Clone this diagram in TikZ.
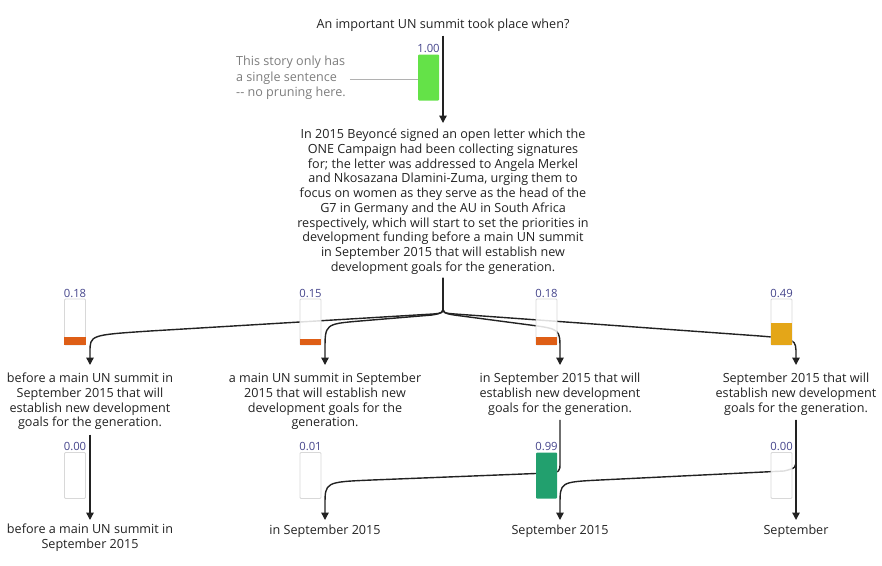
\documentclass[tikz,border=0pt]{standalone}
\usepackage{fontspec}
\setmainfont{Open Sans}
\usetikzlibrary{arrows.meta}
\definecolor{ink}{RGB}{34,34,34}
\definecolor{notec}{RGB}{125,125,125}
\definecolor{lbl}{RGB}{70,70,140}
\definecolor{barline}{RGB}{216,216,216}
\definecolor{gfill}{RGB}{100,226,72}
\definecolor{ofill}{RGB}{222,94,22}
\definecolor{yfill}{RGB}{228,166,24}
\definecolor{tfill}{RGB}{34,160,110}
\newcommand\myfill[3]{\fill[#2] (#1.south west) rectangle ([yshift=#3*46pt]#1.south east);}
\begin{document}
\begin{tikzpicture}[x=1pt,y=-1pt,
  txt/.style={font=\fontsize{12.6}{14.7}\selectfont, text=ink, align=center, inner sep=0pt, execute at begin node=\strut},
  notetxt/.style={font=\fontsize{12.6}{15.5}\selectfont, text=notec, align=left, inner sep=0pt, execute at begin node=\strut},
  lab/.style={font=\fontsize{11.3}{13}\selectfont, text=lbl, inner sep=0pt, anchor=south},
  sbar/.style={draw=barline, line width=0.8pt, fill=white, fill opacity=0.85, minimum width=21pt, minimum height=46pt, inner sep=0pt, rounded corners=1pt},
  conn/.style={draw=ink, line width=1.4pt, -{Triangle[length=7.5pt,width=7.5pt]}},
]
\useasboundingbox (0,0) rectangle (882,565);

% texts
\node[txt] (title) at (443,26) {An important UN summit took place when?};
\node[notetxt, anchor=west] (note) at (236,79) {This story only has\\a single sentence\\{-}{-} no pruning here.};
\node[txt, anchor=north] (para) at (443,129) {In 2015 Beyoncé signed an open letter which the\\ONE Campaign had been collecting signatures\\for; the letter was addressed to Angela Merkel\\and Nkosazana Dlamini-Zuma, urging them to\\focus on women as they serve as the head of the\\G7 in Germany and the AU in South Africa\\respectively, which will start to set the priorities in\\development funding before a main UN summit\\in September 2015 that will establish new\\development goals for the generation.};

\node[txt, anchor=north] (c1) at (90,373) {before a main UN summit in\\September 2015 that will\\establish new development\\goals for the generation.};
\node[txt, anchor=north] (c2) at (325,373) {a main UN summit in September\\2015 that will establish new\\development goals for the\\generation.};
\node[txt, anchor=north] (c3) at (560,373) {in September 2015 that will\\establish new development\\goals for the generation.};
\node[txt, anchor=north] (c4) at (796,373) {September 2015 that will\\establish new development\\goals for the generation.};

\node[txt, anchor=north] (d1) at (90,524) {before a main UN summit in\\September 2015};
\node[txt, anchor=north] (d2) at (325,524) {in September 2015};
\node[txt, anchor=north] (d3) at (560,524) {September 2015};
\node[txt, anchor=north] (d4) at (796,524) {September};

% connectors
\draw[conn, shorten <=2pt, shorten >=6pt] (title.south) -- (para.north);
\draw[draw=notec!60, line width=0.5pt] (note.east) ++(4,0) coordinate (ne) -- (ne -| 418,0);

\draw[conn, shorten <=2pt, shorten >=8pt] (para.south) -- (443,306) .. controls (443,313) .. (433,314) -- (150,331) .. controls (90,335) .. (90,352) -- (c1.north);
\draw[conn, shorten <=2pt, shorten >=8pt] (para.south) -- (443,306) .. controls (443,313) .. (432,315) -- (360,321) .. controls (325,324) .. (325,350) -- (c2.north);
\draw[conn, shorten <=2pt, shorten >=8pt] (para.south) -- (443,306) .. controls (443,313) .. (454,315) -- (530,325) .. controls (560,329) .. (560,350) -- (c3.north);
\draw[conn, shorten <=2pt, shorten >=8pt] (para.south) -- (443,306) .. controls (443,313) .. (455,314) -- (760,336) .. controls (796,339) .. (796,355) -- (c4.north);

\draw[conn, shorten <=3pt, shorten >=4pt] (c1.south) -- (d1.north);
\draw[conn, shorten <=3pt, shorten >=4pt] (c3.south) -- (560,462) .. controls (560,472) .. (548,473) -- (372,480) .. controls (325,482) .. (325,505) -- (d2.north);
\draw[conn, shorten <=3pt, shorten >=4pt] (c4.south) -- (796,458) .. controls (796,468) .. (784,471) -- (600,480) .. controls (560,482) .. (560,505) -- (d3.north);
\draw[conn, shorten <=3pt, shorten >=4pt] (c4.south) -- (d4.north);

% bars
\node[sbar, draw=none, fill=gfill, fill opacity=1] (qbar) at (428.5,77.5) {};
\node[lab] (ql) at ([yshift=1pt]qbar.north) {1.00};

\node[sbar] (b1) at (75,322) {};
\myfill{b1}{ofill}{0.18}
\node[lab] (bl1) at ([yshift=1pt]b1.north) {0.18};
\node[sbar] (b2) at (310.5,322) {};
\myfill{b2}{ofill}{0.15}
\node[lab] (bl2) at ([yshift=1pt]b2.north) {0.15};
\node[sbar] (b3) at (546.5,322) {};
\myfill{b3}{ofill}{0.18}
\node[lab] (bl3) at ([yshift=1pt]b3.north) {0.18};
\node[sbar] (b4) at (781.5,322) {};
\myfill{b4}{yfill}{0.49}
\node[lab] (bl4) at ([yshift=1pt]b4.north) {0.49};

\node[sbar] (e1) at (75,475.5) {};
\node[lab] (el1) at ([yshift=1pt]e1.north) {0.00};
\node[sbar] (e2) at (310.5,475.5) {};
\node[lab] (el2) at ([yshift=1pt]e2.north) {0.01};
\node[sbar, draw=none, fill=tfill, fill opacity=1] (e3) at (546.5,475.5) {};
\node[lab] (el3) at ([yshift=1pt]e3.north) {0.99};
\node[sbar] (e4) at (781.5,475.5) {};
\node[lab] (el4) at ([yshift=1pt]e4.north) {0.00};
\end{tikzpicture}
\end{document}
